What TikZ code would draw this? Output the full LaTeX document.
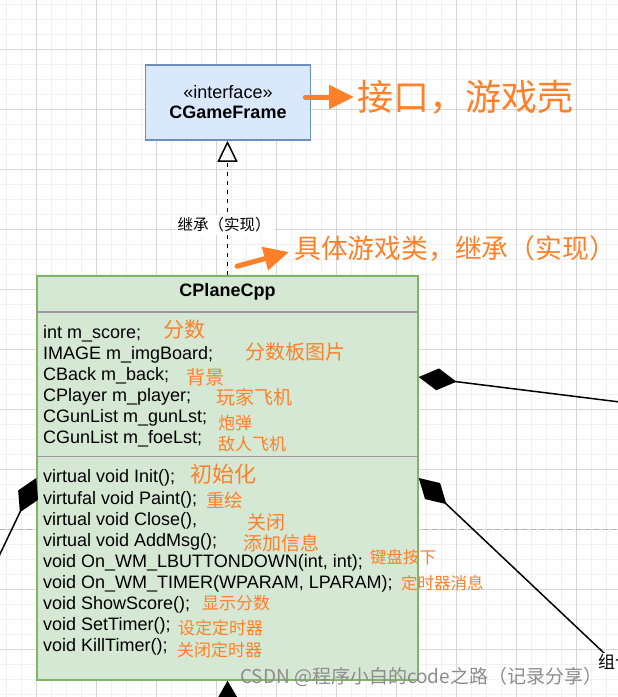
\documentclass[tikz,border=0pt]{standalone}
\usepackage{fontspec}
\setmainfont{Liberation Sans}
\newfontfamily\cjk{Noto Sans CJK SC}
\usepackage{tikz}
\usetikzlibrary{arrows.meta}
\definecolor{ifill}{HTML}{DAE8FC}
\definecolor{iline}{HTML}{6C8EBF}
\definecolor{cfill}{HTML}{D5E8D4}
\definecolor{cline}{HTML}{82B366}
\definecolor{noteorange}{RGB}{255,128,40}
\tikzset{
grid minor/.style = { draw = black!6, line width = 0.75pt },
grid major/.style = { draw = black!16, line width = 0.75pt },
page break/.style = { draw = black!30, line width = 1pt, dash pattern = on 4.5pt off 4.5pt },
iface box/.style = { rectangle, draw = iline, fill = ifill, line width = 1.5pt, minimum width = 165pt, minimum height = 75pt, inner sep = 0pt, align = center, font = \fontsize{18pt}{20pt}\selectfont },
class box/.style = { rectangle, draw = cline, fill = cfill, line width = 1.5pt, minimum width = 381pt, minimum height = 404pt, inner sep = 0pt },
divider/.style = { draw = black!40, line width = 1.5pt },
member/.style = { anchor = base west, inner sep = 0pt, font = \fontsize{18pt}{21pt}\selectfont },
note/.style = { anchor = west, inner sep = 0pt, text = noteorange, font = \cjk\fontsize{#1}{#1}\selectfont },
orange arrow/.style = { draw = noteorange, line width = 5pt, line cap = round, -{Triangle[length = 25pt, width = 23pt]} },
realize/.style = { draw = black, line width = 1.5pt, dash pattern = on 4.5pt off 4.5pt, -{Triangle[open, length = 21pt, width = 20pt]} },
compose/.style = { draw = black, line width = 1.5pt, {Diamond[length = 38pt, width = 22pt]}- },
}

\begin{document}
\begin{tikzpicture}[x = 1pt, y = -1pt]
    \useasboundingbox (0, 0) rectangle (618, 697);
    \clip (0, 0) rectangle (618, 697);
    \fill[white] (0, 0) rectangle (618, 697);
    % background grid
    \foreach \i in {0,...,41} \draw[grid minor] (6.3 + 15*\i, 0) -- (6.3 + 15*\i, 697);
    \foreach \i in {0,...,46} \draw[grid minor] (0, 4.3 + 15*\i) -- (618, 4.3 + 15*\i);
    \foreach \i in {0,...,10} \draw[grid major] (36.3 + 60*\i, 0) -- (36.3 + 60*\i, 697);
    \foreach \i in {0,...,10} \draw[grid major] (0, 49.3 + 60*\i) -- (618, 49.3 + 60*\i);
    \draw[page break] (0, 529.5) -- (618, 529.5);

    % interface
    \node[iface box] (frame) at (228, 102.5) {«interface»\\\textbf{CGameFrame}};
    \node[note = 36pt] (iface note) at (357, 97) {接口，游戏壳};
    \draw[orange arrow] ([xshift = -6pt]frame.east |- iface note.west) -- ([xshift = -3pt]iface note.west);

    % class
    \node[class box] (plane) at (227.5, 478) {};
    \node[font = \bfseries\fontsize{18pt}{20pt}\selectfont] (plane title) at (227.5, 292) {CPlaneCpp};
    \draw[divider] (plane.west |- 0, 312) -- (plane.east |- 0, 312);
    \draw[divider] (plane.west |- 0, 456.5) -- (plane.east |- 0, 456.5);

    % connectors
    \draw[realize] (plane.north) -- (plane.north |- frame.south);
    \node[fill = white, inner sep = 3pt, font = \cjk\fontsize{15.5pt}{15.5pt}\selectfont] (inh label) at (224, 225) {继承（实现）};
    \node[note = 26.8pt] (impl note) at (294, 248) {具体游戏类，继承（实现）};
    \draw[orange arrow] ([xshift = 9.5pt, yshift = 9pt]plane.north) -- ([xshift = -5pt, yshift = -4pt]impl note.west);

    \coordinate (agg end) at (660, 407);
    \coordinate (comp end) at (650, 696.5);
    \coordinate (left end) at (-10, 575);
    \coordinate (down end) at (228, 740);
    \draw[compose] (plane.east |- 0, 377) -- (agg end);
    \draw[compose] (plane.east) -- (comp end);
    \draw[compose] (plane.west) -- (left end);
    \draw[compose] (plane.south) -- (down end);
    \node[anchor = west, fill = white, inner sep = 1pt, font = \cjk\fontsize{17pt}{17pt}\selectfont] (comp label) at (597, 662) {组合};

    % attributes
    \node[member] (m1) at (43, 338) {int m\_score;};
    \node[member] (m2) at (43, 359) {IMAGE m\_imgBoard;};
    \node[member] (m3) at (43, 380) {CBack m\_back;};
    \node[member] (m4) at (43, 401) {CPlayer m\_player;};
    \node[member] (m5) at (43, 422) {CGunList m\_gunLst;};
    \node[member] (m6) at (43, 443) {CGunList m\_foeLst;};

    % methods
    \node[member] (f1) at (43, 482.5) {virtual void Init();};
    \node[member] (f2) at (43, 504) {virtufal void Paint();};
    \node[member] (f3) at (43, 525) {virtual void Close(),};
    \node[member] (f4) at (43, 546) {virtual void AddMsg();};
    \node[member] (f5) at (43, 567) {void On\_WM\_LBUTTONDOWN(int, int);};
    \node[member] (f6) at (43, 588) {void On\_WM\_TIMER(WPARAM, LPARAM);};
    \node[member] (f7) at (43, 609) {void ShowScore();};
    \node[member] (f8) at (43, 630) {void SetTimer();};
    \node[member] (f9) at (43, 651) {void KillTimer();};

    % notes
    \node[note = 21pt] (n1) at (163, 330) {分数};
    \node[note = 20pt] (n2) at (245, 352) {分数板图片};
    \node[note = 19pt] (n3) at (186, 377) {背景};
    \node[note = 19pt] (n4) at (216, 397) {玩家飞机};
    \node[note = 17pt] (n5) at (218, 423) {炮弹};
    \node[note = 17pt] (n6) at (218, 444) {敌人飞机};
    \node[note = 22pt] (n7) at (190, 474) {初始化};
    \node[note = 18.5pt] (n8) at (206, 500) {重绘};
    \node[note = 19pt] (n9) at (247, 522) {关闭};
    \node[note = 19pt] (n10) at (243, 543) {添加信息};
    \node[note = 16.5pt] (n11) at (370, 557) {键盘按下};
    \node[note = 16.5pt] (n12) at (401, 583) {定时器消息};
    \node[note = 17pt] (n13) at (202, 603) {显示分数};
    \node[note = 17pt] (n14) at (178, 628) {设定定时器};
    \node[note = 17pt] (n15) at (177, 650) {关闭定时器};

    \node[anchor = west, inner sep = 0pt, text = black!45, font = \cjk\fontsize{19pt}{19pt}\selectfont] (watermark) at (240, 677) {CSDN @程序小白的code之路（记录分享）};
\end{tikzpicture}
\end{document}
